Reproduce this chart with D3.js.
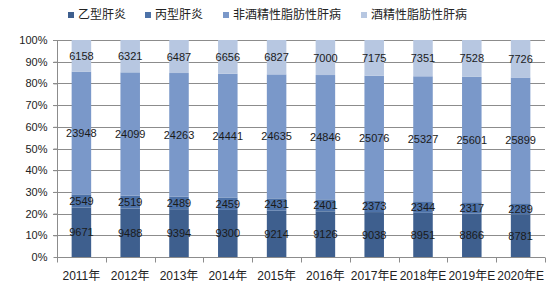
<!DOCTYPE html>
<html><head><meta charset="utf-8">
<script src="https://cdn.jsdelivr.net/npm/d3@7"></script>
<style>
body{margin:0;background:#fff;}
svg{display:block;}
text{font-family:"Liberation Sans","Noto Sans CJK SC",sans-serif;}
</style></head>
<body><svg id="c" width="555" height="288"></svg>
<script>
const years = ["2011年","2012年","2013年","2014年","2015年","2016年","2017年E","2018年E","2019年E","2020年E"];
const seriesNames = ["乙型肝炎","丙型肝炎","非酒精性脂肪性肝病","酒精性脂肪性肝病"];
const hepB = [9671,9488,9394,9300,9214,9126,9038,8951,8866,8781];
const hepC = [2549,2519,2489,2459,2431,2401,2373,2344,2317,2289];
const nafld = [23948,24099,24263,24441,24635,24846,25076,25327,25601,25899];
const afld = [6158,6321,6487,6656,6827,7000,7175,7351,7528,7726];
const yTicks = [0,0.1,0.2,0.3,0.4,0.5,0.6,0.7,0.8,0.9,1];
const colors = ["#3e5f8e","#4d72a8","#7a98c9","#b7c7e1"];

const seriesVals = [hepB,hepC,nafld,afld];
const rows = years.map((y,i)=>{
  const tot = seriesVals.reduce((s,a)=>s+a[i],0);
  const r = {year:y};
  seriesNames.forEach((n,k)=>{ r[n]=seriesVals[k][i]/tot; r["raw"+k]=seriesVals[k][i]; });
  return r;
});
const stacked = d3.stack().keys(seriesNames)(rows);

const svg = d3.select("#c");
const x = d3.scaleBand().domain(years).range([57,545]).paddingInner(0.6).paddingOuter(0.3);
const y = d3.scaleLinear().domain([0,1]).range([257,40]);

// gridlines
svg.append("g").selectAll("line").data(yTicks.slice(1)).join("line")
  .attr("x1",53).attr("x2",545).attr("y1",d=>Math.round(y(d))+0.5).attr("y2",d=>Math.round(y(d))+0.5)
  .attr("stroke","#8c8c8c").attr("stroke-width",1);

// bars
const g = svg.append("g");
stacked.forEach((s,k)=>{
  g.append("g").selectAll("rect").data(s).join("rect")
    .attr("x",d=>x(d.data.year)).attr("width",x.bandwidth())
    .attr("y",d=>y(d[1])).attr("height",d=>y(d[0])-y(d[1]))
    .attr("fill",colors[k]);
});

// y axis
const yAxis = d3.axisLeft(y).tickValues(yTicks).tickFormat(d3.format(".0%")).tickSize(4).tickPadding(6);
const ya = svg.append("g").attr("transform","translate(57.5,0)").call(yAxis);
ya.select(".domain").attr("stroke","#8c8c8c").attr("d","M0,"+y(1)+"V"+(y(0)+0.5));
ya.selectAll(".tick line").attr("stroke","#8c8c8c");
ya.selectAll("text").attr("font-size",11).attr("fill","#222").style("font-family","'Liberation Sans',sans-serif");

// x axis
const xa = svg.append("g").attr("transform","translate(0,"+(y(0)+0.5)+")");
xa.append("line").attr("x1",57).attr("x2",545).attr("stroke","#8c8c8c");
const step = x.step();
const bounds = d3.range(years.length+1).map(i=>57+i*step);
xa.selectAll("line.tk").data(bounds).join("line").attr("class","tk")
  .attr("x1",d=>Math.round(d)+0.5).attr("x2",d=>Math.round(d)+0.5).attr("y1",0).attr("y2",5).attr("stroke","#8c8c8c");
xa.selectAll("text").data(years).join("text")
  .attr("x",d=>x(d)+x.bandwidth()/2).attr("y",22).attr("text-anchor","middle")
  .attr("font-size",12).attr("fill","#222").text(d=>d);

// data labels
stacked.forEach((s,k)=>{
  svg.append("g").selectAll("text").data(s).join("text")
    .attr("x",d=>x(d.data.year)+x.bandwidth()/2)
    .attr("y",d=>y((d[0]+d[1])/2)+4)
    .attr("text-anchor","middle").attr("font-size",11).attr("fill","#1a1a1a")
    .style("font-family","'Liberation Sans Narrow','Liberation Sans',sans-serif")
    .text(d=>d.data["raw"+k]);
});

// legend
const legX = [68,145,223,361];
const lg = svg.append("g");
seriesNames.forEach((n,k)=>{
  lg.append("rect").attr("x",legX[k]).attr("y",12).attr("width",6).attr("height",6).attr("fill",colors[k]);
  lg.append("text").attr("x",legX[k]+10).attr("y",19).attr("font-size",12).attr("fill","#222")
    .style("font-family","'Noto Sans CJK SC',sans-serif").text(n);
});
</script></body></html>
